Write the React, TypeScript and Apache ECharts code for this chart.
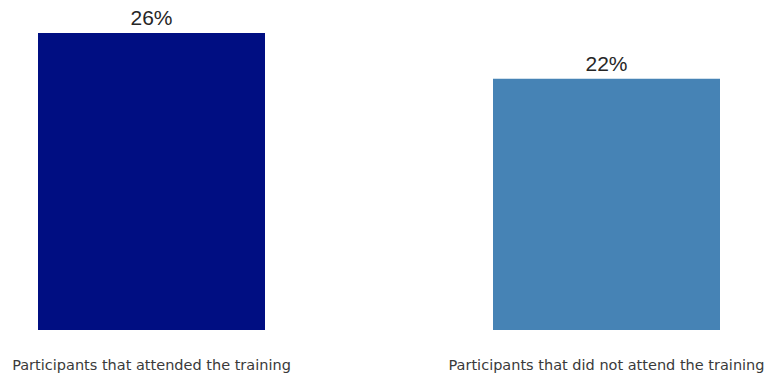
import React, { useEffect, useRef } from "react";
import * as echarts from "echarts";

const categories = [
  "Participants that attended the training",
  "Participants that did not attend the training",
];
const values = [26, 22];
const barColors = ["#000E82", "#4683B5"];

export default function App() {
  const ref = useRef<HTMLDivElement>(null);
  useEffect(() => {
    document.body.style.margin = "0";
    const chart = echarts.init(ref.current!, null, { renderer: "svg" });
    chart.setOption({
      animation: false,
      backgroundColor: "#ffffff",
      grid: {
        left: -76,
        right: -69,
        top: 33,
        bottom: 43,
        containLabel: false,
        outerBoundsMode: "none",
      },
      xAxis: {
        type: "category",
        data: categories,
        axisLine: { show: false },
        axisTick: { show: false },
        axisLabel: {
          interval: 0,
          margin: 27,
          color: "#3a3a3a",
          fontSize: 14.5,
          fontFamily: "DejaVu Sans, sans-serif",
        },
      },
      yAxis: {
        type: "value",
        min: 0,
        max: 26,
        show: false,
        splitLine: { show: false },
      },
      series: [
        {
          type: "bar",
          barWidth: 227,
          data: values.map((v, i) => ({ value: v, itemStyle: { color: barColors[i] } })),
          label: {
            show: true,
            position: "top",
            distance: 5,
            formatter: "{c}%",
            color: "#262626",
            fontSize: 21,
            fontFamily: "Liberation Sans, Arial, sans-serif",
          },
        },
      ],
    });
    return () => chart.dispose();
  }, []);
  return <div ref={ref} style={{ width: 765, height: 373 }} />;
}
